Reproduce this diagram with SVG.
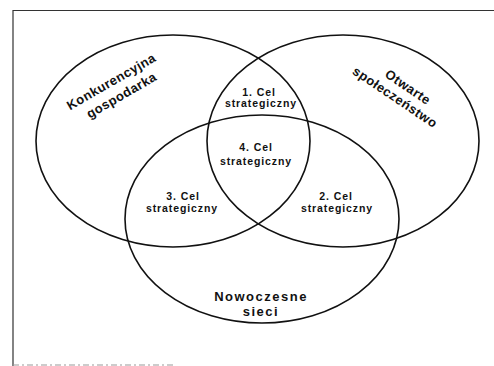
<svg xmlns="http://www.w3.org/2000/svg" width="494" height="366" viewBox="0 0 494 366">
<style>
.set{fill:none;stroke:#111;stroke-width:1.6}
.lbl{font-family:"Liberation Sans",Arial,sans-serif;font-weight:bold;fill:#111;text-anchor:middle}
.big{font-size:13px;letter-spacing:0.5px}
.sm{font-size:10.5px;letter-spacing:0.9px}
.nw{font-size:13px;letter-spacing:1.5px}
.frame{stroke:#333;stroke-width:1.2;fill:none}
</style>
<rect width="494" height="366" fill="#fff"/>
<g id="frame">
<path class="frame" d="M13 10.5H494M13 10V366"/>
<path d="M13 365H175" stroke="#999" stroke-width="1" stroke-dasharray="6 3 2 3"/>
</g>
<g id="konkurencyjna-gospodarka">
<ellipse class="set" cx="173" cy="141" rx="137" ry="106"/>
<g transform="translate(115,88) rotate(-30)">
<text class="lbl big" x="0" y="-3">Konkurencyjna</text>
<text class="lbl big" x="2" y="14">gospodarka</text>
</g>
</g>
<g id="otwarte-spoleczenstwo">
<ellipse class="set" cx="343" cy="141" rx="136" ry="106"/>
<g transform="translate(401,92) rotate(34)">
<text class="lbl big" x="3" y="-3.5">Otwarte</text>
<text class="lbl big" x="-2" y="12">społeczeństwo</text>
</g>
</g>
<g id="nowoczesne-sieci">
<ellipse class="set" cx="262" cy="219" rx="137" ry="104"/>
<text class="lbl nw" x="261" y="301">Nowoczesne</text>
<text class="lbl nw" x="261" y="316">sieci</text>
</g>
<g id="cel-1">
<text class="lbl sm" x="259" y="96">1. Cel</text>
<text class="lbl sm" x="261" y="107">strategiczny</text>
</g>
<g id="cel-4">
<text class="lbl sm" x="256" y="151">4. Cel</text>
<text class="lbl sm" x="256" y="165">strategiczny</text>
</g>
<g id="cel-3">
<text class="lbl sm" x="183" y="200">3. Cel</text>
<text class="lbl sm" x="182" y="212">strategiczny</text>
</g>
<g id="cel-2">
<text class="lbl sm" x="336" y="200">2. Cel</text>
<text class="lbl sm" x="337" y="212">strategiczny</text>
</g>
<g id="connectors"/>
</svg>
